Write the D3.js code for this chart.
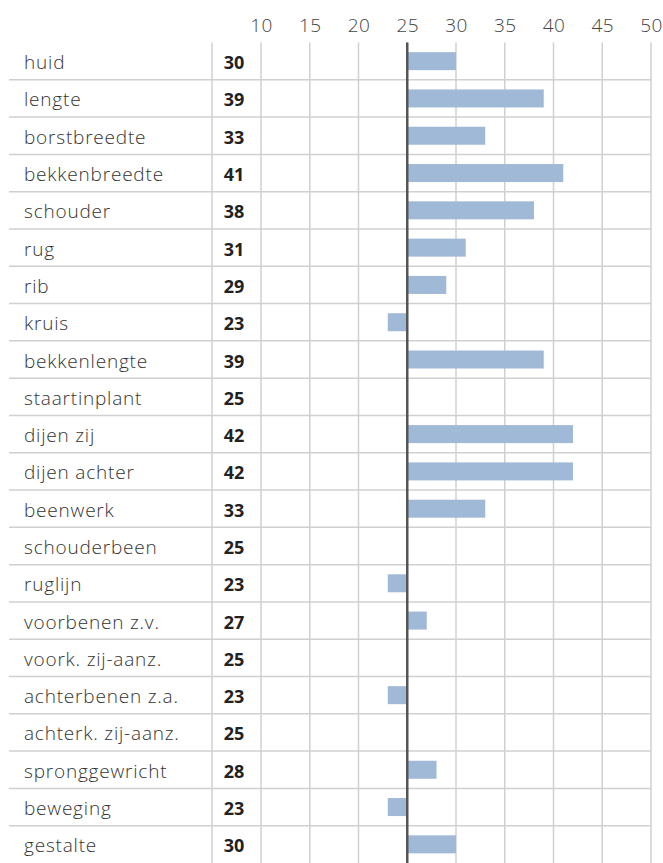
<!DOCTYPE html>
<html>
<head>
    <meta charset="utf-8">
    <title>Lineaire beoordeling</title>
</head>
<body style="margin:0;background:#fff">
<style>
    text { font-family: "Open Sans", Lato, sans-serif; }
    .label { font-size: 19px; fill: #333; font-weight: 300; letter-spacing: 0.8px; }
    .value { font-size: 18px; fill: #222; font-weight: 700; }
    .tick text { font-size: 19px; fill: #444; font-weight: 300; font-family: "Open Sans", sans-serif; letter-spacing: 0.3px; }
</style>
<script src="https://d3js.org/d3.v7.min.js"></script>
<script>
    const categories = ['huid', 'lengte', 'borstbreedte', 'bekkenbreedte', 'schouder', 'rug', 'rib', 'kruis',
        'bekkenlengte', 'staartinplant', 'dijen zij', 'dijen achter', 'beenwerk', 'schouderbeen', 'ruglijn',
        'voorbenen z.v.', 'voork. zij-aanz.', 'achterbenen z.a.', 'achterk. zij-aanz.', 'spronggewricht',
        'beweging', 'gestalte'];
    const values = [30, 39, 33, 41, 38, 31, 29, 23, 39, 25, 42, 42, 33, 25, 23, 27, 25, 23, 25, 28, 23, 30];
    const tickValues = [10, 15, 20, 25, 30, 35, 40, 45, 50];
    const baseline = 25;

    const SIZES = {
        WIDTH: 663,
        HEIGHT: 863,
        TOP: 42.5,
        LEFT: 9,
        COL: 212,
        X0: 261,
        X1: 651,
        BAR: 18
    };

    const svg = d3.select('body').append('svg')
        .attr('width', SIZES.WIDTH)
        .attr('height', SIZES.HEIGHT);

    const x = d3.scaleLinear().domain([10, 50]).range([SIZES.X0, SIZES.X1]);
    const y = d3.scaleBand().domain(categories).range([SIZES.TOP, SIZES.HEIGHT]);

    // tick labels on top
    const axis = d3.axisTop(x).tickValues(tickValues).tickSize(0).tickPadding(0);
    const gAxis = svg.append('g').attr('transform', `translate(0,${SIZES.TOP - 10.5})`).call(axis);
    gAxis.select('.domain').remove();

    // vertical gridlines
    svg.append('g').selectAll('line').data(tickValues).join('line')
        .attr('x1', d => x(d)).attr('x2', d => x(d))
        .attr('y1', SIZES.TOP).attr('y2', SIZES.HEIGHT)
        .attr('stroke', '#d0d0d0').attr('stroke-width', 1.5);

    // column separator
    svg.append('line')
        .attr('x1', SIZES.COL).attr('x2', SIZES.COL)
        .attr('y1', SIZES.TOP).attr('y2', SIZES.HEIGHT)
        .attr('stroke', '#d0d0d0').attr('stroke-width', 1.5);

    // row separators
    svg.append('g').selectAll('line').data(categories.slice(1)).join('line')
        .attr('x1', SIZES.LEFT).attr('x2', SIZES.X1)
        .attr('y1', d => y(d)).attr('y2', d => y(d))
        .attr('stroke', '#d0d0d0').attr('stroke-width', 1.5);

    const rows = categories.map((c, i) => ({name: c, value: values[i]}));

    // bars from the baseline
    svg.append('g').selectAll('rect').data(rows.filter(d => d.value !== baseline)).join('rect')
        .attr('x', d => x(Math.min(d.value, baseline)))
        .attr('width', d => Math.abs(x(d.value) - x(baseline)))
        .attr('y', d => y(d.name) + (y.bandwidth() - SIZES.BAR) / 2)
        .attr('height', SIZES.BAR)
        .attr('fill', '#a0b9d6');

    // baseline
    svg.append('line')
        .attr('x1', x(baseline)).attr('x2', x(baseline))
        .attr('y1', SIZES.TOP).attr('y2', SIZES.HEIGHT)
        .attr('stroke', '#555').attr('stroke-width', 2.5);

    svg.append('g').selectAll('text').data(rows).join('text')
        .attr('class', 'label')
        .attr('x', 24)
        .attr('y', d => y(d.name) + y.bandwidth() / 2)
        .attr('dy', 8)
        .text(d => d.name);

    svg.append('g').selectAll('text').data(rows).join('text')
        .attr('class', 'value')
        .attr('x', 234)
        .attr('y', d => y(d.name) + y.bandwidth() / 2)
        .attr('dy', 8)
        .attr('text-anchor', 'middle')
        .text(d => d.value);
</script>
</body>
</html>
